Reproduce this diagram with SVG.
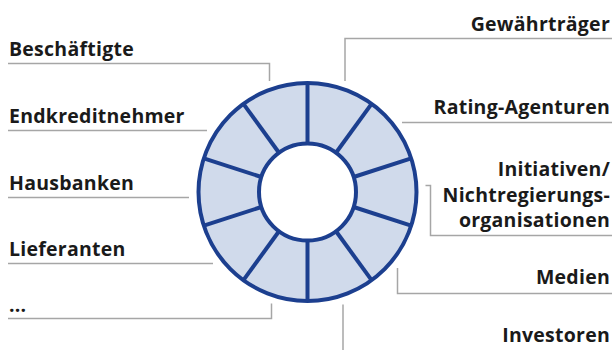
<svg xmlns="http://www.w3.org/2000/svg" xmlns:xlink="http://www.w3.org/1999/xlink" width="614" height="350" viewBox="0 0 614 350">
  <style>
    .lbl { font-family: "Open Sans", "Noto Sans", "Liberation Sans", sans-serif; font-weight: 700; font-size: 19.5px; letter-spacing: 0.25px; fill: #1a1a1a; }
    .r { text-anchor: end; }
    .con { fill: none; stroke: #a6a6a6; stroke-width: 1.5; }
    .ring { stroke: #1c3f8f; stroke-width: 4; }
  </style>
  <defs>
    <line id="spoke" x1="307.5" y1="143.5" x2="307.5" y2="83" class="ring"/>
  </defs>
  <rect width="614" height="350" fill="#ffffff"/>

  <g id="connectors">
    <polyline class="con" points="8,63.5 269.5,63.5 269.5,81"/>
    <polyline class="con" points="8,130.5 207,130.5"/>
    <polyline class="con" points="8,197.5 189,197.5"/>
    <polyline class="con" points="8,263.5 213,263.5"/>
    <polyline class="con" points="8,318.5 271.5,318.5 271.5,303.5"/>
    <polyline class="con" points="612,38.5 345,38.5 345,81"/>
    <polyline class="con" points="402,122.5 612,122.5"/>
    <polyline class="con" points="425.5,185.5 430.5,185.5 430.5,235.5 612,235.5"/>
    <polyline class="con" points="397.5,268 397.5,293.5 612,293.5"/>
    <polyline class="con" points="343,304.5 343,350"/>
  </g>

  <g id="ring">
    <circle cx="307.5" cy="192" r="109" fill="#d0daeb" class="ring"/>
    <use xlink:href="#spoke"/>
    <use xlink:href="#spoke" transform="rotate(36 307.5 192)"/>
    <use xlink:href="#spoke" transform="rotate(72 307.5 192)"/>
    <use xlink:href="#spoke" transform="rotate(108 307.5 192)"/>
    <use xlink:href="#spoke" transform="rotate(144 307.5 192)"/>
    <use xlink:href="#spoke" transform="rotate(180 307.5 192)"/>
    <use xlink:href="#spoke" transform="rotate(216 307.5 192)"/>
    <use xlink:href="#spoke" transform="rotate(252 307.5 192)"/>
    <use xlink:href="#spoke" transform="rotate(288 307.5 192)"/>
    <use xlink:href="#spoke" transform="rotate(324 307.5 192)"/>
    <circle cx="307.5" cy="192" r="48.5" fill="#ffffff" class="ring"/>
  </g>

  <g id="beschaeftigte"><text class="lbl" x="9" y="56">Beschäftigte</text></g>
  <g id="endkreditnehmer"><text class="lbl" x="9" y="123">Endkreditnehmer</text></g>
  <g id="hausbanken"><text class="lbl" x="9" y="190">Hausbanken</text></g>
  <g id="lieferanten"><text class="lbl" x="9" y="256">Lieferanten</text></g>
  <g id="weitere"><text class="lbl" x="9" y="312">...</text></g>

  <g id="gewaehrtraeger"><text class="lbl r" x="610" y="31">Gewährträger</text></g>
  <g id="rating"><text class="lbl r" x="610" y="114">Rating-Agenturen</text></g>
  <g id="initiativen">
    <text class="lbl r" x="610" y="176">Initiativen/</text>
    <text class="lbl r" x="610" y="201.5">Nichtregierungs-</text>
    <text class="lbl r" x="610" y="227">organisationen</text>
  </g>
  <g id="medien"><text class="lbl r" x="610" y="284">Medien</text></g>
  <g id="investoren"><text class="lbl r" x="610" y="342">Investoren</text></g>
</svg>
